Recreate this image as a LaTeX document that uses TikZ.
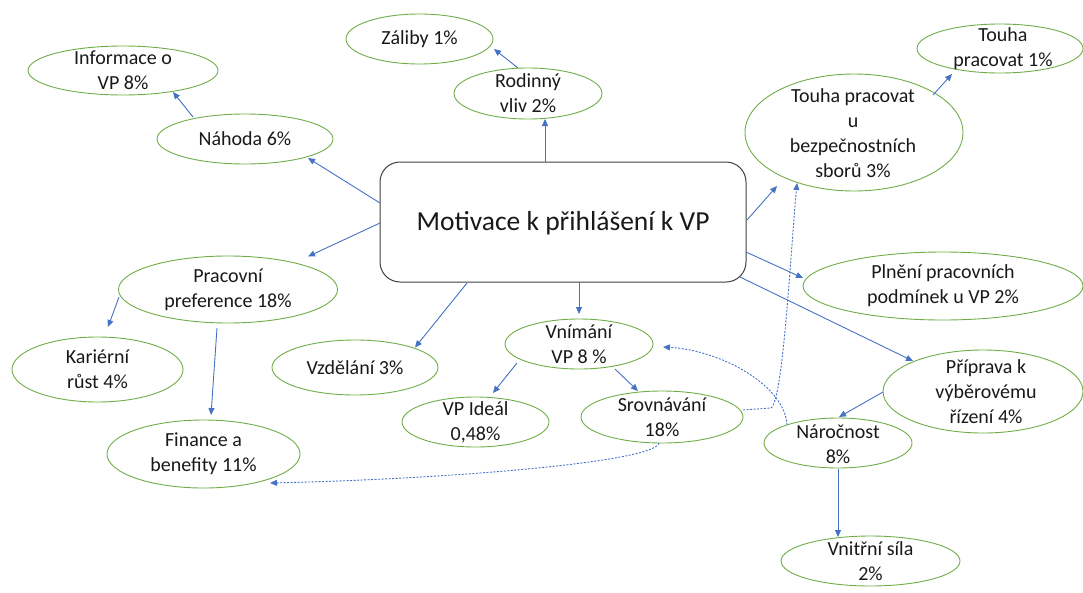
\documentclass[tikz,border=0pt]{standalone}
\usepackage{fontspec}
\setmainfont{Carlito}
\usetikzlibrary{shapes.geometric,arrows.meta,calc}
\definecolor{egreen}{HTML}{70AD47}
\definecolor{ablue}{HTML}{4472C4}
\definecolor{bgray}{HTML}{404040}
\begin{document}
\begin{tikzpicture}[x=1pt,y=-1pt,
  ell/.style={draw=egreen, line width=0.9pt, ellipse, inner sep=0pt},
  lbl/.style={font=\fontsize{20}{25}\selectfont, align=center, inner sep=0pt, text=black!90},
  arr/.style={draw=ablue, line width=0.9pt, -{Triangle[length=7pt,width=6pt]}},
  dotarr/.style={arr, dash pattern=on 2pt off 1.5pt},
  mainbox/.style={draw=bgray, line width=1pt, rounded corners=20pt, fill=white, inner sep=0pt}]
\useasboundingbox (0,0) rectangle (1083,592);

% main box
\node[mainbox, minimum width=366pt, minimum height=120pt] (main) at (563,222) {};
\node[lbl, font=\fontsize{27.5}{32}\selectfont] (maint) at (563,223) {Motivace k přihlášení k VP};

% ellipses
\node[ell, minimum width=190pt, minimum height=49pt] (inf) at (123,70.5) {};
\node[lbl] (inft) at (inf) {Informace o\\VP 8\%};
\node[ell, minimum width=176pt, minimum height=50pt] (nah) at (245,139) {};
\node[lbl] (naht) at (nah) {Náhoda 6\%};
\node[ell, minimum width=147pt, minimum height=50pt] (zal) at (419.5,39) {};
\node[lbl] (zalt) at (zal) {Záliby 1\%};
\node[ell, minimum width=148pt, minimum height=51pt] (rod) at (528,93.5) {};
\node[lbl] (rodt) at (rod) {Rodinný\\vliv 2\%};
\node[ell, minimum width=166pt, minimum height=49pt] (tou1) at (1000,48.5) {};
\node[lbl] (tou1t) at (1003,49) {Touha\\pracovat 1\%};
\node[ell, minimum width=218pt, minimum height=117pt] (toub) at (854,132.5) {};
\node[lbl] (toubt) at (853,133.5) {Touha pracovat\\u\\bezpečnostních\\sborů 3\%};
\node[ell, minimum width=280pt, minimum height=68pt] (pln) at (943,286) {};
\node[lbl] (plnt) at (pln) {Plnění pracovních\\podmínek u VP 2\%};
\node[ell, minimum width=219pt, minimum height=67pt] (pra) at (228,289.5) {};
\node[lbl] (prat) at (pra) {Pracovní\\preference 18\%};
\node[ell, minimum width=171pt, minimum height=65pt] (kar) at (97.5,369.5) {};
\node[lbl] (kart) at (kar) {Kariérní\\růst 4\%};
\node[ell, minimum width=193pt, minimum height=68pt] (fin) at (203.5,454) {};
\node[lbl] (fint) at (fin) {Finance a\\benefity 11\%};
\node[ell, minimum width=166pt, minimum height=55pt] (vzd) at (355,367.5) {};
\node[lbl] (vzdt) at (vzd) {Vzdělání 3\%};
\node[ell, minimum width=148pt, minimum height=50pt] (vni) at (579,344) {};
\node[lbl] (vnit) at (vni) {Vnímání\\VP 8 \%};
\node[ell, minimum width=147pt, minimum height=50pt] (vpi) at (475.5,422) {};
\node[lbl] (vpit) at (vpi) {VP Ideál\\0,48\%};
\node[ell, minimum width=162pt, minimum height=52pt] (srv) at (662,417) {};
\node[lbl] (srvt) at (662,417.5) {Srovnávání\\18\%};
\node[ell, minimum width=200pt, minimum height=83pt] (pri) at (983,391.5) {};
\node[lbl] (prit) at (986,392) {Příprava k\\výběrovému\\řízení 4\%};
\node[ell, minimum width=148pt, minimum height=50pt] (nar) at (838,443) {};
\node[lbl] (nart) at (838,444) {Náročnost\\8\%};
\node[ell, minimum width=179pt, minimum height=50pt] (vsi) at (870.5,561) {};
\node[lbl] (vsit) at (vsi) {Vnitřní síla\\2\%};

% solid arrows
\draw[arr] ([shift={(-183,-19)}]main.center) -- ([shift={(63,19)}]nah.center);
\draw[arr] ([shift={(-183,1)}]main.center) -- ([shift={(80,-33)}]pra.center);
\draw[arr] ([shift={(-96,61)}]main.center) -- ([shift={(60,-20)}]vzd.center);
\draw[arr] ([shift={(16,60)}]main.center) -- ([shift={(0,-30)}]vni.center);
\draw[arr] ([shift={(184,-2)}]main.center) -- ([shift={(-77,53.5)}]toub.center);
\draw[arr] ([shift={(183,30)}]main.center) -- ([shift={(-140,-8)}]pln.center);
\draw[arr] ([shift={(177,55)}]main.center) -- ([shift={(-70,-30.5)}]pri.center);
\draw[arr] ([shift={(-18,-60)}]main.center) -- ([shift={(17,25.5)}]rod.center);
\draw[arr] ([shift={(-10,-25.5)}]rod.center) -- ([shift={(74.5,10)}]zal.center);
\draw[arr] ([shift={(-52,-22)}]nah.center) -- ([shift={(50,21.5)}]inf.center);
\draw[arr] ([shift={(79,-37.5)}]toub.center) -- ([shift={(-48,25.5)}]tou1.center);
\draw[arr] ([shift={(-109,7.5)}]pra.center) -- ([shift={(10.5,-42.5)}]kar.center);
\draw[arr] ([shift={(-11,38.5)}]pra.center) -- ([shift={(7.5,-39)}]fin.center);
\draw[arr] ([shift={(-62,19)}]vni.center) -- ([shift={(17.5,-29)}]vpi.center);
\draw[arr] ([shift={(36,25)}]vni.center) -- ([shift={(-24,-26)}]srv.center);
\draw[arr] ([shift={(-100,0.5)}]pri.center) -- ([shift={(1,-26)}]nar.center);
\draw[arr] ([shift={(0,26)}]nar.center) -- ([shift={(-32.5,-24)}]vsi.center);

% dotted arrows
\draw[dotarr] ([shift={(-3,26)}]srv.center) .. controls (655,462) and (450,479) .. ([shift={(66.5,29)}]fin.center);
\draw[dotarr] ([shift={(81,-7)}]srv.center) -- (771,408) .. controls (783,400) and (790,260) .. ([shift={(-57,50.5)}]toub.center);
\draw[dotarr] ([shift={(-51,-18)}]nar.center) .. controls (785,385) and (720,350) .. ([shift={(84,3)}]vni.center);
\end{tikzpicture}
\end{document}
